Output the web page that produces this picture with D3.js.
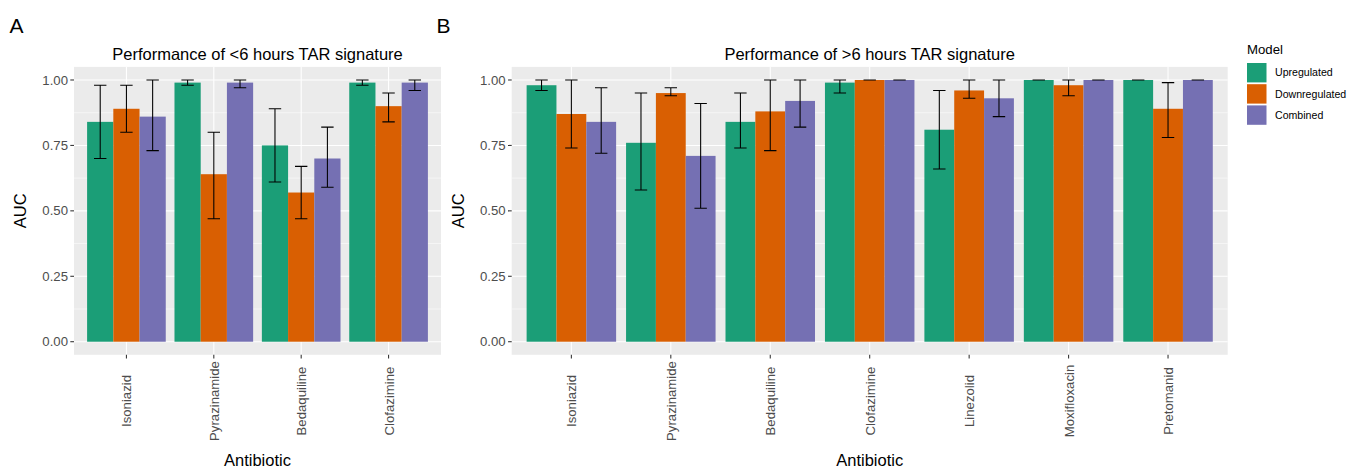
<!DOCTYPE html>
<html>
<head>
<meta charset="utf-8">
<script src="https://cdn.jsdelivr.net/npm/d3@7"></script>
<style>
  body { margin: 0; background: #fff; }
  svg { display: block; font-family: "Liberation Sans", Arial, sans-serif; }
  .grid-major { stroke: #fff; stroke-width: 1.07; }
  .grid-minor { stroke: #fff; stroke-width: 0.53; }
  .tick-mark { stroke: #333; stroke-width: 1.07; }
  .tick-label { fill: #4d4d4d; font-size: 13.2px; }
  .axis-title { fill: #000; font-size: 16.5px; }
  .err { stroke: #000; stroke-width: 1.07; fill: none; }
</style>
</head>
<body>
<div id="chart"></div>
<script>
// models (fill groups) and their colours
var models = ['Upregulated', 'Downregulated', 'Combined'];
var modelColors = ['#1B9E77', '#D95F02', '#7570B3'];
var yTicks = [0, 0.25, 0.5, 0.75, 1];
var yMinor = [0.125, 0.375, 0.625, 0.875];

// panel A: <6 hours
var drugsA = ['Isoniazid', 'Pyrazinamide', 'Bedaquiline', 'Clofazimine'];
var upA = [0.84, 0.99, 0.75, 0.99];
var upA_lo = [0.70, 0.98, 0.61, 0.98];
var upA_hi = [0.98, 1.00, 0.89, 1.00];
var downA = [0.89, 0.64, 0.57, 0.90];
var downA_lo = [0.80, 0.47, 0.47, 0.84];
var downA_hi = [0.98, 0.80, 0.67, 0.95];
var combA = [0.86, 0.99, 0.70, 0.99];
var combA_lo = [0.73, 0.97, 0.59, 0.96];
var combA_hi = [1.00, 1.00, 0.82, 1.00];

// panel B: >6 hours
var drugsB = ['Isoniazid', 'Pyrazinamide', 'Bedaquiline', 'Clofazimine', 'Linezolid', 'Moxifloxacin', 'Pretomanid'];
var upB = [0.98, 0.76, 0.84, 0.99, 0.81, 1.00, 1.00];
var upB_lo = [0.96, 0.58, 0.74, 0.95, 0.66, 1.00, 1.00];
var upB_hi = [1.00, 0.95, 0.95, 1.00, 0.96, 1.00, 1.00];
var downB = [0.87, 0.95, 0.88, 1.00, 0.96, 0.98, 0.89];
var downB_lo = [0.74, 0.94, 0.73, 1.00, 0.93, 0.94, 0.78];
var downB_hi = [1.00, 0.97, 1.00, 1.00, 1.00, 1.00, 0.99];
var combB = [0.84, 0.71, 0.92, 1.00, 0.93, 1.00, 1.00];
var combB_lo = [0.72, 0.51, 0.82, 1.00, 0.86, 1.00, 1.00];
var combB_hi = [0.97, 0.91, 1.00, 1.00, 1.00, 1.00, 1.00];

function buildRows(drugs, series) {
  var rows = [];
  drugs.forEach(function (d, i) {
    series.forEach(function (s, j) {
      rows.push({drug: d, model: models[j], auc: s[0][i], lo: s[1][i], hi: s[2][i]});
    });
  });
  return rows;
}

var rowsA = buildRows(drugsA, [[upA, upA_lo, upA_hi], [downA, downA_lo, downA_hi], [combA, combA_lo, combA_hi]]);
var rowsB = buildRows(drugsB, [[upB, upB_lo, upB_hi], [downB, downB_lo, downB_hi], [combB, combB_lo, combB_hi]]);

var W = 1347, H = 470;
var svg = d3.select('#chart').append('svg').attr('width', W).attr('height', H);

var color = d3.scaleOrdinal().domain(models).range(modelColors);

function panel(opts) {
  var g = svg.append('g');
  // ggplot discrete expansion: 0.6 of a step each side of the outer centres
  var x = d3.scaleBand().domain(opts.drugs).range([opts.left, opts.right])
    .paddingInner(0).paddingOuter(0.1);
  var y = d3.scaleLinear().domain([-0.05, 1.05]).range([opts.bottom, opts.top]);
  var step = x.step();
  var inner = d3.scaleBand().domain(models).range([-0.45 * step, 0.45 * step]);
  function cx(d) { return x(d) + step / 2; }

  g.append('rect')
    .attr('x', opts.left).attr('y', opts.top)
    .attr('width', opts.right - opts.left).attr('height', opts.bottom - opts.top)
    .attr('fill', '#EBEBEB');

  g.selectAll('line.ymin').data(yMinor).enter().append('line')
    .attr('class', 'grid-minor')
    .attr('x1', opts.left).attr('x2', opts.right)
    .attr('y1', function (d) { return y(d); }).attr('y2', function (d) { return y(d); });
  g.selectAll('line.ymaj').data(yTicks).enter().append('line')
    .attr('class', 'grid-major')
    .attr('x1', opts.left).attr('x2', opts.right)
    .attr('y1', function (d) { return y(d); }).attr('y2', function (d) { return y(d); });
  g.selectAll('line.xmaj').data(opts.drugs).enter().append('line')
    .attr('class', 'grid-major')
    .attr('x1', cx).attr('x2', cx)
    .attr('y1', opts.top).attr('y2', opts.bottom);

  // bars
  g.selectAll('rect.bar').data(opts.rows).enter().append('rect')
    .attr('class', 'bar')
    .attr('x', function (d) { return cx(d.drug) + inner(d.model); })
    .attr('width', inner.bandwidth())
    .attr('y', function (d) { return y(d.auc); })
    .attr('height', function (d) { return y(0) - y(d.auc); })
    .attr('fill', function (d) { return color(d.model); });

  // error bars
  var capW = 12.4;
  var eb = g.selectAll('g.eb').data(opts.rows).enter().append('g')
    .attr('transform', function (d) {
      return 'translate(' + (cx(d.drug) + inner(d.model) + inner.bandwidth() / 2) + ',0)';
    });
  eb.append('path').attr('class', 'err')
    .attr('d', function (d) {
      var a = y(d.hi), b = y(d.lo);
      return 'M' + (-capW / 2) + ',' + a + 'H' + (capW / 2) +
        'M0,' + a + 'V' + b +
        'M' + (-capW / 2) + ',' + b + 'H' + (capW / 2);
    });

  // y axis
  g.selectAll('line.yt').data(yTicks).enter().append('line')
    .attr('class', 'tick-mark')
    .attr('x1', opts.left - 3.7).attr('x2', opts.left)
    .attr('y1', function (d) { return y(d); }).attr('y2', function (d) { return y(d); });
  g.selectAll('text.yl').data(yTicks).enter().append('text')
    .attr('class', 'tick-label')
    .attr('x', opts.left - 6).attr('y', function (d) { return y(d); })
    .attr('dy', '0.35em').attr('text-anchor', 'end')
    .text(d3.format('.2f'));

  // x axis
  g.selectAll('line.xt').data(opts.drugs).enter().append('line')
    .attr('class', 'tick-mark')
    .attr('x1', cx).attr('x2', cx)
    .attr('y1', opts.bottom).attr('y2', opts.bottom + 3.7);
  g.selectAll('text.xl').data(opts.drugs).enter().append('text')
    .attr('class', 'tick-label')
    .attr('transform', function (d) { return 'translate(' + (cx(d) + 5) + ',401) rotate(-90)'; })
    .attr('text-anchor', 'middle')
    .text(function (d) { return d; });

  var mid = (opts.left + opts.right) / 2;
  g.append('text').attr('class', 'axis-title')
    .attr('x', mid).attr('y', 466).attr('text-anchor', 'middle')
    .text('Antibiotic');
  g.append('text').attr('class', 'axis-title')
    .attr('transform', 'translate(' + (opts.left - 48) + ',' + y(0.5) + ') rotate(-90)')
    .attr('text-anchor', 'middle')
    .text('AUC');
  g.append('text').attr('class', 'axis-title')
    .attr('x', mid).attr('y', 60).attr('text-anchor', 'middle')
    .text(opts.title);
  g.append('text')
    .attr('x', opts.tagX).attr('y', 33).attr('font-size', '21px').attr('fill', '#000')
    .text(opts.tag);
}

panel({drugs: drugsA, rows: rowsA, left: 74, right: 441, top: 66.9, bottom: 354.8,
  title: 'Performance of <6 hours TAR signature', tag: 'A', tagX: 9.5});
panel({drugs: drugsB, rows: rowsB, left: 511.7, right: 1227.7, top: 66.9, bottom: 354.8,
  title: 'Performance of >6 hours TAR signature', tag: 'B', tagX: 436.5});

// legend
var legend = svg.append('g').attr('transform', 'translate(1247,0)');
legend.append('text').attr('x', 0).attr('y', 54).attr('font-size', '13.2px').attr('fill', '#000')
  .text('Model');
var keys = legend.selectAll('g.key').data(models).enter().append('g')
  .attr('transform', function (d, i) { return 'translate(0,' + (63 + i * 21.2) + ')'; });
keys.append('rect').attr('width', 19.5).attr('height', 19.4)
  .attr('fill', function (d) { return color(d); });
keys.append('text').attr('x', 28).attr('y', 9.7).attr('dy', '0.35em')
  .attr('font-size', '10.6px').attr('fill', '#000')
  .text(function (d) { return d; });
</script>
</body>
</html>
